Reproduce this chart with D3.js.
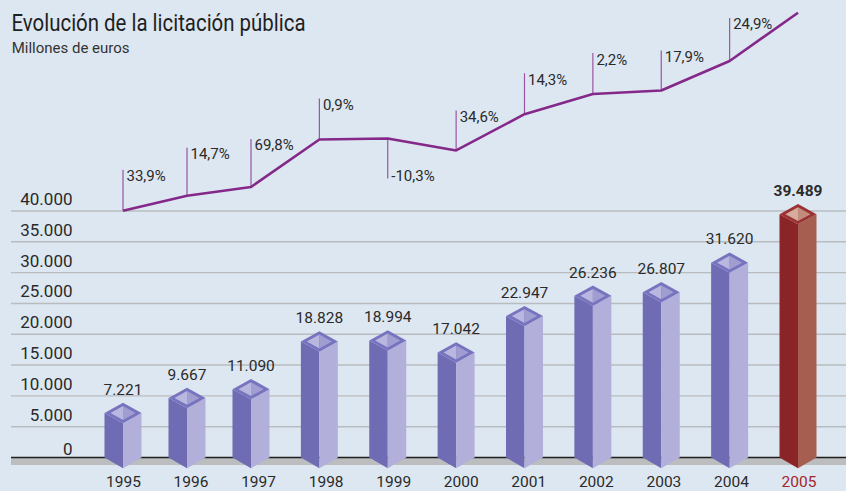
<!DOCTYPE html>
<html>
<head>
<meta charset="utf-8">
<script src="https://cdn.jsdelivr.net/npm/d3@7"></script>
<style>
  body { margin: 0; background: #dde7f1; }
  svg text { font-family: Roboto, "Open Sans", sans-serif; fill: #2a2a2a; }
</style>
</head>
<body>
<div id="chart"></div>
<script>
// data
const years = ["1995", "1996", "1997", "1998", "1999", "2000", "2001", "2002", "2003", "2004", "2005"];
const values = [7221, 9667, 11090, 18828, 18994, 17042, 22947, 26236, 26807, 31620, 39489];
const growth = ["33,9%", "14,7%", "69,8%", "0,9%", "-10,3%", "34,6%", "14,3%", "2,2%", "17,9%", "24,9%"];
const yTicks = [0, 5000, 10000, 15000, 20000, 25000, 30000, 35000, 40000];

// length of the little leader lines above the trend line (negative = drawn downwards)
const leaderLen = [41, 48, 48, 41, -40, 40, 41, 41, 40, 43];

const width = 846, height = 491;
const base = 457.5;

const svg = d3.select("#chart")
    .append("svg")
    .attr("width", width)
    .attr("height", height);

svg.append("rect")
    .attr("width", width)
    .attr("height", height)
    .attr("fill", "#dde7f1");

const es = d3.formatLocale({ decimal: ",", thousands: ".", grouping: [3], currency: ["", "€"] });
const fmt = es.format(",d");

const y = d3.scaleLinear().domain([0, 40000]).range([base, 211]);
const xLabel = d3.scalePoint().domain(years).range([123.5, 799]);
// the columns are not quite evenly spaced in the original
const xBar = d3.scaleLinear().domain([0, 2, years.length - 1]).range([123, 251, 798]);
const yLine = d3.scaleLinear().domain(d3.extent(values)).range([210.7, 12.7]);

// title
svg.append("text")
    .attr("x", 11.5)
    .attr("y", 31)
    .attr("font-size", 24)
    .attr("textLength", 294)
    .attr("lengthAdjust", "spacingAndGlyphs")
    .style("fill", "#1f1f1f")
    .text("Evolución de la licitación pública");

svg.append("text")
    .attr("x", 11.7)
    .attr("y", 53.3)
    .attr("font-size", 15)
    .style("fill", "#333")
    .text("Millones de euros");

// gridlines
svg.selectAll("line.grid")
    .data(yTicks.filter(d => d > 0))
    .enter()
    .append("line")
    .attr("class", "grid")
    .attr("x1", 11)
    .attr("x2", width)
    .attr("y1", d => y(d))
    .attr("y2", d => y(d))
    .attr("stroke", "#b9bcbf")
    .attr("stroke-width", 1.4);

svg.selectAll("text.ytick")
    .data(yTicks)
    .enter()
    .append("text")
    .attr("class", "ytick")
    .attr("x", 72.5)
    .attr("y", d => y(d) - (d === 0 ? 2.5 : 6))
    .attr("text-anchor", "end")
    .attr("font-size", 17)
    .text(d => fmt(d));

// floor
svg.append("rect")
    .attr("x", 11)
    .attr("y", base)
    .attr("width", width - 11)
    .attr("height", 7.5)
    .attr("fill", "#bbbdbf");

svg.append("line")
    .attr("x1", 11)
    .attr("x2", width)
    .attr("y1", base)
    .attr("y2", base)
    .attr("stroke", "#1e1e1e")
    .attr("stroke-width", 1.6);

// columns
const w = 18.5, dz = 10.2, k = 0.68;
const blue = { left: "#6f6cb3", right: "#b2b0db", rim: "#7773bf", inL: "#b9b6e0", inR: "#a09dd1" };
const red = { left: "#8b2427", right: "#a65e51", rim: "#9c3133", inL: "#d6ab9e", inR: "#c28c7d" };

const cols = svg.selectAll("g.col")
    .data(values)
    .enter()
    .append("g")
    .attr("class", "col");

const pts = a => a.map(p => p.join(",")).join(" ");

cols.each(function(v, i) {
    const g = d3.select(this);
    const c = i === values.length - 1 ? red : blue;
    const cx = xBar(i), yt = y(v);
    g.append("polygon")
        .attr("points", pts([[cx - w, yt], [cx, yt + dz], [cx, base + dz + 0.5], [cx - w, base]]))
        .attr("fill", c.left);
    g.append("polygon")
        .attr("points", pts([[cx, yt + dz], [cx + w, yt], [cx + w, base], [cx, base + dz + 0.5]]))
        .attr("fill", c.right);
    g.append("polygon")
        .attr("points", pts([[cx - w, yt], [cx, yt - dz], [cx + w, yt], [cx, yt + dz]]))
        .attr("fill", c.rim);
    g.append("polygon")
        .attr("points", pts([[cx - w * k, yt], [cx, yt - dz * k], [cx, yt + dz * k]]))
        .attr("fill", c.inL);
    g.append("polygon")
        .attr("points", pts([[cx, yt - dz * k], [cx + w * k, yt], [cx, yt + dz * k]]))
        .attr("fill", c.inR);
});

svg.selectAll("text.val")
    .data(values)
    .enter()
    .append("text")
    .attr("class", "val")
    .attr("x", (d, i) => xBar(i))
    .attr("y", d => y(d) - dz - 8)
    .attr("text-anchor", "middle")
    .attr("font-size", 15.5)
    .attr("font-weight", (d, i) => i === values.length - 1 ? "bold" : "normal")
    .text(d => fmt(d));

// year labels
svg.selectAll("text.year")
    .data(years)
    .enter()
    .append("text")
    .attr("class", "year")
    .attr("x", d => xLabel(d))
    .attr("y", 486.5)
    .attr("text-anchor", "middle")
    .attr("font-size", 15.5)
    .style("fill", (d, i) => i === years.length - 1 ? "#a3262b" : "#2a2a2a")
    .text(d => d);

// trend line with growth leaders
svg.selectAll("line.leader")
    .data(growth)
    .enter()
    .append("line")
    .attr("class", "leader")
    .attr("x1", (d, i) => xBar(i))
    .attr("x2", (d, i) => xBar(i))
    .attr("y1", (d, i) => yLine(values[i]))
    .attr("y2", (d, i) => yLine(values[i]) - leaderLen[i])
    .attr("stroke", "#9c54a2")
    .attr("stroke-width", 1.2);

svg.append("path")
    .datum(values)
    .attr("d", d3.line().x((d, i) => xBar(i)).y(d => yLine(d)))
    .attr("fill", "none")
    .attr("stroke", "#84288a")
    .attr("stroke-width", 2.6)
    .attr("stroke-linejoin", "round");

svg.selectAll("text.pct")
    .data(growth)
    .enter()
    .append("text")
    .attr("class", "pct")
    .attr("x", (d, i) => xBar(i) + 3.5)
    .attr("y", (d, i) => {
        const top = yLine(values[i]) - leaderLen[i];
        return leaderLen[i] > 0 ? top + 11.5 : top + 2.7;
    })
    .attr("font-size", 15)
    .text(d => d);
</script>
</body>
</html>
